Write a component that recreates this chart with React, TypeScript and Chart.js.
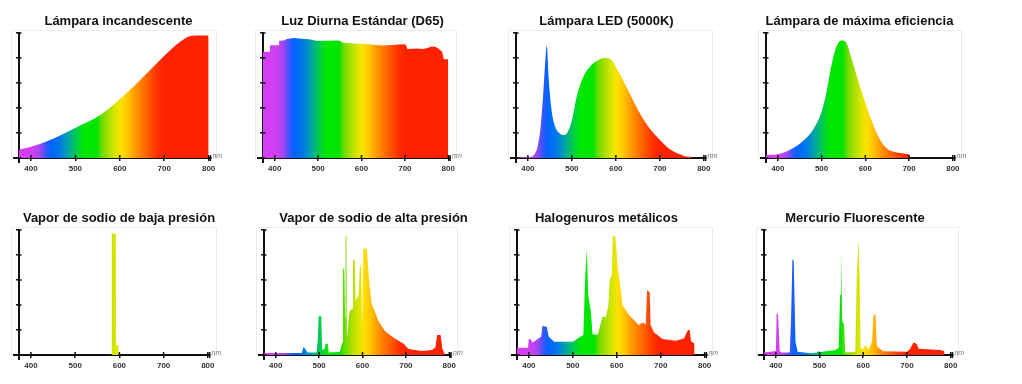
import React, { useEffect, useRef } from "react";
import { Chart, registerables } from "chart.js";

Chart.register(...registerables);

// ---------- axes ----------
const X_MIN = 373;
const X_MAX = 804;
const X_TICKS = [400, 500, 600, 700, 800];
const Y_TICKS = [0, 0.2, 0.4, 0.6, 0.8, 1];

// ---------- titles ----------
const titles = [
  "Lámpara incandescente",
  "Luz Diurna Estándar (D65)",
  "Lámpara LED (5000K)",
  "Lámpara de máxima eficiencia",
  "Vapor de sodio de baja presión",
  "Vapor de sodio de alta presión",
  "Halogenuros metálicos",
  "Mercurio Fluorescente",
];

// ---------- data (wavelength nm, relative power) ----------
const incandWl = [373, 400, 443, 497, 556, 598, 646, 698, 736, 762, 780, 800];
const incandVal = [0.069, 0.09, 0.144, 0.237, 0.344, 0.464, 0.624, 0.811, 0.931, 0.979, 0.98, 0.98];

const d65Wl = [373, 389, 389, 410, 410, 420, 430, 445, 468, 480, 495, 522, 545, 552, 557, 584, 600, 622, 649, 670, 684, 700, 703, 706, 730, 742, 752, 761, 770, 777, 786, 789, 790, 800];
const d65Val = [0.85, 0.85, 0.903, 0.903, 0.939, 0.94, 0.955, 0.96, 0.952, 0.95, 0.939, 0.939, 0.94, 0.935, 0.923, 0.917, 0.915, 0.909, 0.901, 0.905, 0.909, 0.91, 0.9, 0.872, 0.877, 0.872, 0.88, 0.893, 0.89, 0.877, 0.85, 0.8, 0.791, 0.791];

const ledWl = [373, 405, 415, 422, 429, 435, 440, 443, 447, 454, 462, 473, 481, 490, 500, 511, 526, 545, 564, 576, 588, 606, 628, 651, 674, 696, 719, 738, 746, 757, 772];
const ledVal = [0.005, 0.008, 0.03, 0.09, 0.25, 0.52, 0.8, 0.9, 0.65, 0.38, 0.25, 0.197, 0.185, 0.205, 0.3, 0.49, 0.65, 0.745, 0.79, 0.8, 0.79, 0.69, 0.54, 0.38, 0.25, 0.16, 0.08, 0.04, 0.03, 0.015, 0.01];

const effWl = [373, 400, 430, 459, 482, 501, 512, 523, 535, 546, 556, 569, 588, 611, 630, 648, 665, 680, 700];
const effVal = [0.024, 0.03, 0.07, 0.14, 0.235, 0.38, 0.54, 0.75, 0.9, 0.94, 0.925, 0.79, 0.57, 0.33, 0.17, 0.08, 0.05, 0.04, 0.03];

const lpsWl = [582, 582.5, 592, 592.5, 598, 598.5];
const lpsVal = [0, 0.97, 0.97, 0.08, 0.08, 0];

const hpsWl = [373, 460, 464, 468, 473, 494, 497, 499, 505, 507, 513, 515, 520, 522, 548, 553, 555, 558, 560, 561, 563, 564, 570, 576, 578, 582, 584, 591, 594, 597, 599, 602, 610, 615, 621, 628, 637, 652, 675, 695, 700, 706, 737, 760, 768, 772, 780, 784, 790];
const hpsVal = [0.016, 0.016, 0.065, 0.05, 0.02, 0.02, 0.12, 0.31, 0.31, 0.04, 0.05, 0.09, 0.09, 0.02, 0.025, 0.1, 0.69, 0.69, 0.3, 0.95, 0.95, 0.13, 0.35, 0.37, 0.76, 0.76, 0.43, 0.48, 0.71, 0.71, 0.21, 0.85, 0.85, 0.6, 0.41, 0.35, 0.27, 0.19, 0.13, 0.09, 0.07, 0.048, 0.032, 0.04, 0.06, 0.16, 0.16, 0.05, 0.005];

const mhWl = [373, 398, 400, 405, 409, 420, 428, 431, 441, 445, 458, 500, 511, 524, 528, 532, 535, 541, 545, 557, 568, 575, 581, 584, 589, 591, 597, 602, 609, 613, 628, 650, 659, 666, 669, 675, 677, 685, 704, 734, 753, 762, 766, 769, 777];
const mhVal = [0.059, 0.059, 0.133, 0.12, 0.1, 0.128, 0.147, 0.235, 0.225, 0.147, 0.107, 0.107, 0.133, 0.16, 0.61, 0.85, 0.48, 0.35, 0.165, 0.165, 0.31, 0.3, 0.4, 0.6, 0.64, 0.955, 0.947, 0.71, 0.52, 0.4, 0.32, 0.24, 0.26, 0.245, 0.52, 0.5, 0.24, 0.18, 0.128, 0.115, 0.133, 0.2, 0.2, 0.11, 0.09];

const hgWl = [373, 396, 400, 402, 405, 409, 413, 432, 435, 438, 441, 445, 450, 480, 494, 496, 502, 537, 544, 547, 549, 552, 556, 559, 582, 585, 589, 592, 594, 601, 605, 612, 620, 623, 628, 631, 645, 700, 707, 715, 722, 727, 776, 786];
const hgVal = [0.02, 0.03, 0.03, 0.33, 0.33, 0.03, 0.02, 0.02, 0.3, 0.77, 0.75, 0.107, 0.027, 0.015, 0.02, 0.03, 0.025, 0.04, 0.06, 0.48, 0.83, 0.27, 0.25, 0.02, 0.027, 0.6, 0.93, 0.6, 0.05, 0.055, 0.08, 0.04, 0.107, 0.31, 0.33, 0.07, 0.03, 0.027, 0.048, 0.1, 0.09, 0.05, 0.04, 0.03];

// ---------- visible spectrum colour stops ----------
const SPECTRUM: [number, string][] = [
  [373, "#d83cf4"],
  [405, "#d040f0"],
  [420, "#a048f0"],
  [435, "#3058ff"],
  [445, "#0064ff"],
  [465, "#0078e8"],
  [485, "#00a8a0"],
  [505, "#00d040"],
  [520, "#00e800"],
  [548, "#00e400"],
  [560, "#70dc00"],
  [578, "#b4e000"],
  [590, "#d8e600"],
  [603, "#ffe000"],
  [615, "#ffcc00"],
  [635, "#ff9800"],
  [660, "#ff6400"],
  [685, "#ff3000"],
  [700, "#ff2200"],
  [804, "#ff2000"],
];

const FONT = '"Liberation Sans", Arial, Helvetica, sans-serif';

type PanelCfg = {
  title: string;
  wl: number[];
  val: number[];
  smooth: boolean;
  axisX: number;
  chartTop: number;
  cw: number;
  rw: number;
};

const ROW1 = 33;
const ROW2 = 230;

const panels: PanelCfg[] = [
  { title: titles[0], wl: incandWl, val: incandVal, smooth: true, axisX: 19, chartTop: ROW1, cw: 191, rw: 19.6 },
  { title: titles[1], wl: d65Wl, val: d65Val, smooth: false, axisX: 263, chartTop: ROW1, cw: 187, rw: 24 },
  { title: titles[2], wl: ledWl, val: ledVal, smooth: true, axisX: 516, chartTop: ROW1, cw: 190, rw: 3.4 },
  { title: titles[3], wl: effWl, val: effVal, smooth: true, axisX: 766, chartTop: ROW1, cw: 189, rw: 10.4 },
  { title: titles[4], wl: lpsWl, val: lpsVal, smooth: false, axisX: 19, chartTop: ROW2, cw: 191, rw: 21.4 },
  { title: titles[5], wl: hpsWl, val: hpsVal, smooth: false, axisX: 264, chartTop: ROW2, cw: 187, rw: 44 },
  { title: titles[6], wl: mhWl, val: mhVal, smooth: false, axisX: 517, chartTop: ROW2, cw: 189, rw: 1.6 },
  { title: titles[7], wl: hgWl, val: hgVal, smooth: false, axisX: 764, chartTop: ROW2, cw: 188, rw: 5.6 },
];

const Y_AXIS_W = 12;
const PAD_R = 14;
const X_AXIS_H = 20;
const PLOT_H = 125;
const HEAD = 20;

function spectrumFill(ctx: any) {
  const chart = ctx.chart;
  const xs = chart.scales && chart.scales.x;
  if (!chart.chartArea || !xs) return "rgba(0,0,0,0)";
  const x0 = xs.getPixelForValue(X_MIN);
  const x1 = xs.getPixelForValue(X_MAX);
  const g = chart.ctx.createLinearGradient(x0, 0, x1, 0);
  for (const [nm, c] of SPECTRUM) g.addColorStop((nm - X_MIN) / (X_MAX - X_MIN), c);
  return g;
}

const decor = {
  id: "decor",
  beforeDatasetsDraw(chart: any) {
    const { ctx, chartArea: a } = chart;
    ctx.save();
    ctx.strokeStyle = "rgba(0,0,0,0.07)";
    ctx.lineWidth = 1;
    ctx.strokeRect(Math.round(a.left - 8) + 0.5, Math.round(a.top - 3) + 0.5, Math.round(a.width + 14), Math.round(a.height + 3));
    ctx.restore();
  },
  afterDraw(chart: any) {
    const { ctx, chartArea: a, scales } = chart;
    const xs = scales.x;
    const ys = scales.y;
    const line = (x1: number, y1: number, x2: number, y2: number) => {
      ctx.beginPath();
      ctx.moveTo(x1, y1);
      ctx.lineTo(x2, y2);
      ctx.stroke();
    };
    ctx.save();
    ctx.strokeStyle = "#111";
    ctx.lineWidth = 1.5;
    ys.ticks.forEach((t: any) => {
      const py = ys.getPixelForValue(t.value);
      line(a.left, py, a.left + 2.5, py);
    });
    xs.ticks.forEach((t: any) => {
      const px = xs.getPixelForValue(t.value);
      line(px, a.bottom, px, a.bottom - 3);
    });
    line(a.right, a.bottom - 3, a.right, a.bottom + 3);
    ctx.lineWidth = 2;
    line(a.left - 6, a.bottom, a.left, a.bottom);
    line(a.left, a.bottom, a.left, a.bottom + 5);
    ctx.fillStyle = "#777";
    ctx.font = `italic 7px ${FONT}`;
    ctx.textBaseline = "alphabetic";
    ctx.textAlign = "left";
    ctx.fillText("nm", a.right + 2, a.bottom - 0.5);
    ctx.restore();
  },
};

function Panel({ cfg }: { cfg: PanelCfg }) {
  const ref = useRef<HTMLCanvasElement>(null);
  const W = Y_AXIS_W + cfg.cw + cfg.rw + PAD_R;
  const H = HEAD + PLOT_H + X_AXIS_H;
  const L = cfg.axisX - Y_AXIS_W;
  const T = cfg.chartTop - HEAD;

  useEffect(() => {
    if (!ref.current) return;
    const data = cfg.wl.map((x, i) => ({ x, y: cfg.val[i] }));
    const gridOpts = {
      display: true,
      drawOnChartArea: false,
      drawTicks: true,
      tickLength: 3,
      color: "#111",
      lineWidth: 1.5,
    };
    const chart = new Chart(ref.current, {
      type: "line",
      data: {
        datasets: [
          {
            data,
            borderWidth: 0,
            borderColor: "rgba(0,0,0,0)",
            pointRadius: 0,
            fill: "origin",
            backgroundColor: spectrumFill as any,
            tension: cfg.smooth ? 0.4 : 0,
            cubicInterpolationMode: cfg.smooth ? "monotone" : "default",
            xAxisID: "x",
            yAxisID: "y",
          } as any,
        ],
      },
      options: {
        responsive: false,
        animation: false,
        devicePixelRatio: 1,
        events: [],
        layout: { padding: { left: 0, right: PAD_R, top: 0.4, bottom: 0 } },
        plugins: {
          legend: { display: false },
          tooltip: { enabled: false },
          title: {
            display: true,
            text: cfg.title,
            color: "#111",
            font: { family: FONT, size: 13, weight: "bold" },
            padding: { top: 0, bottom: 4 },
          },
        },
        scales: {
          x: {
            type: "linear",
            min: X_MIN,
            max: X_MAX,
            afterBuildTicks: (s: any) => {
              s.ticks = X_TICKS.map((v) => ({ value: v }));
            },
            afterFit: (s: any) => {
              s.height = X_AXIS_H;
            },
            grid: gridOpts,
            border: { display: true, color: "#111", width: 2 },
            ticks: {
              color: "#333",
              font: { family: FONT, size: 8, weight: "bold" },
              padding: 3,
              maxRotation: 0,
              autoSkip: false,
            },
          },
          y: {
            type: "linear",
            min: 0,
            max: 1,
            afterBuildTicks: (s: any) => {
              s.ticks = Y_TICKS.map((v) => ({ value: v }));
            },
            afterFit: (s: any) => {
              s.width = Y_AXIS_W;
            },
            grid: gridOpts,
            border: { display: true, color: "#111", width: 2 },
            ticks: { display: false },
          },
          pad: {
            type: "linear",
            position: "right",
            display: false,
            afterFit: (s: any) => {
              s.width = cfg.rw;
            },
          },
        },
      } as any,
      plugins: [decor],
    });
    return () => chart.destroy();
  }, []);

  return (
    <div style={{ position: "absolute", left: L, top: T, width: W, height: H }}>
      <canvas ref={ref} width={Math.round(W)} height={H} style={{ display: "block" }} />
    </div>
  );
}

export default function App() {
  return (
    <div style={{ position: "absolute", left: 0, top: 0, width: 1022, height: 384, background: "#fff", overflow: "hidden" }}>
      {panels.map((p, i) => (
        <Panel key={i} cfg={p} />
      ))}
    </div>
  );
}
